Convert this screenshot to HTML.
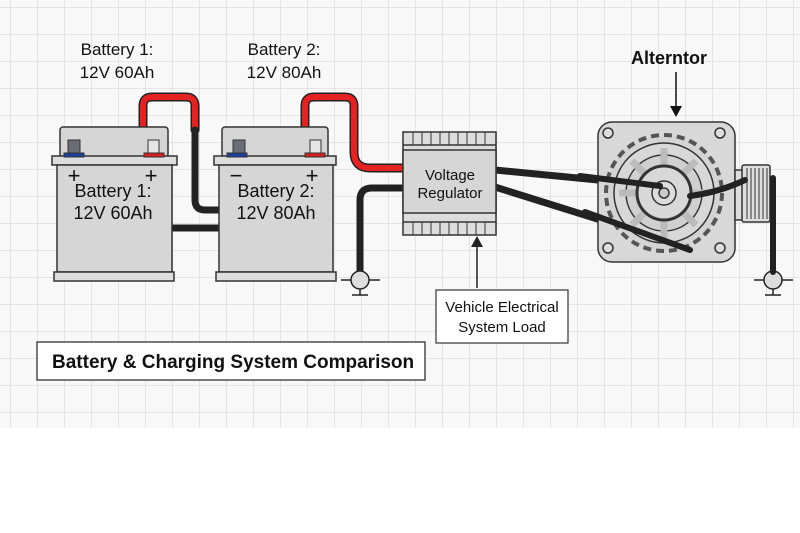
<!DOCTYPE html>
<html><head><style>
body{margin:0;background:#fff;}
svg{display:block;font-family:"Liberation Sans",sans-serif;}
</style></head><body>
<svg width="800" height="533" viewBox="0 0 800 533" xmlns="http://www.w3.org/2000/svg">
<defs>
<pattern id="g" width="27" height="27" patternUnits="userSpaceOnUse" x="11" y="8">
<path d="M27 0V27M0 27H27" stroke="#d2d2d2" stroke-width="1" fill="none"/>
</pattern>
</defs>
<rect width="800" height="428" fill="#f8f8f8"/>
<rect width="800" height="428" fill="url(#g)"/>

<text x="117" y="55" font-size="17" text-anchor="middle" fill="#111">Battery 1:</text>
<text x="117" y="78" font-size="17" text-anchor="middle" fill="#111">12V 60Ah</text>
<text x="284" y="55" font-size="17" text-anchor="middle" fill="#111">Battery 2:</text>
<text x="284" y="78" font-size="17" text-anchor="middle" fill="#111">12V 80Ah</text>
<text x="669" y="64" font-size="18" font-weight="bold" text-anchor="middle" fill="#111">Alterntor</text>
<line x1="676" y1="72" x2="676" y2="108" stroke="#111" stroke-width="1.5"/>
<path d="M670 106 L682 106 L676 117Z" fill="#111"/>

<g fill="none" stroke-linecap="round" stroke-linejoin="round">
<path d="M143 128 V106 Q143 97 152 97 H186 Q195 97 195 106 V130" stroke="#222" stroke-width="9"/>
<path d="M143 128 V106 Q143 97 152 97 H186 Q195 97 195 106 V130" stroke="#e52222" stroke-width="6"/>
<path d="M195 130 V200 Q195 210 205 210 H219" stroke="#222" stroke-width="7"/>
<path d="M172 228 H219" stroke="#222" stroke-width="7"/>
<path d="M305 128 V106 Q305 97 314 97 H345 Q354 97 354 106 V152 Q354 168 370 168 H405" stroke="#222" stroke-width="9"/>
<path d="M305 128 V106 Q305 97 314 97 H345 Q354 97 354 106 V152 Q354 168 370 168 H405" stroke="#e52222" stroke-width="6"/>
<path d="M237 142 Q237 137 245 137 H275 Q280 137 280 130" stroke="#222" stroke-width="7"/>
<path d="M237 142 Q237 137 245 137 H275 Q280 137 280 130" stroke="#e52222" stroke-width="4.5"/>
<path d="M360 272 V200 Q360 188 372 188 H405" stroke="#222" stroke-width="7"/>
<path d="M495 170 L660 186" stroke="#222" stroke-width="7"/>
<path d="M495 187 L690 248" stroke="#222" stroke-width="7"/>
</g>

<g stroke="#333" stroke-width="1.5" fill="#d6d6d6">
<rect x="60" y="127" width="108" height="30" rx="3"/>
<rect x="52" y="156" width="125" height="9" fill="#ddd"/>
<rect x="57" y="165" width="115" height="107"/>
<rect x="54" y="272" width="120" height="9" fill="#ddd"/>
<rect x="222" y="127" width="106" height="30" rx="3"/>
<rect x="214" y="156" width="122" height="9" fill="#ddd"/>
<rect x="219" y="165" width="114" height="107"/>
<rect x="216" y="272" width="120" height="9" fill="#ddd"/>
</g>
<g stroke="#333" stroke-width="1">
<rect x="68" y="140" width="12" height="14" fill="#6a6d75"/>
<rect x="64" y="153" width="20" height="4" fill="#1d3fa0"/>
<rect x="148" y="140" width="11" height="14" fill="#e6e6e6"/>
<rect x="144" y="153" width="20" height="4" fill="#d62020"/>
<rect x="233" y="140" width="12" height="14" fill="#6a6d75"/>
<rect x="227" y="153" width="20" height="4" fill="#1d3fa0"/>
<rect x="310" y="140" width="11" height="14" fill="#e6e6e6"/>
<rect x="305" y="153" width="20" height="4" fill="#d62020"/>
</g>
<g font-size="22" fill="#111" text-anchor="middle">
<text x="74" y="183">+</text><text x="151" y="183">+</text>
<text x="236" y="183">−</text><text x="312" y="183">+</text>
</g>
<g font-size="18" fill="#111" text-anchor="middle">
<text x="113" y="197">Battery 1:</text><text x="113" y="219">12V 60Ah</text>
<text x="276" y="197">Battery 2:</text><text x="276" y="219">12V 80Ah</text>
</g>

<g stroke="#222" stroke-width="1.5" fill="#ddd">
<line x1="341" y1="280" x2="380" y2="280"/><circle cx="360" cy="280" r="9"/>
<line x1="360" y1="289" x2="360" y2="295"/><line x1="352" y1="295" x2="368" y2="295"/>
<line x1="754" y1="280" x2="793" y2="280"/><circle cx="773" cy="280" r="9"/>
<line x1="773" y1="289" x2="773" y2="295"/><line x1="765" y1="295" x2="781" y2="295"/>
</g>

<g stroke="#333" stroke-width="1.5" fill="#d6d6d6">
<rect x="403" y="132" width="93" height="103" fill="#ddd"/>
<rect x="403" y="150" width="93" height="63"/>
<line x1="403" y1="145" x2="496" y2="145"/><line x1="403" y1="222" x2="496" y2="222"/>
</g>
<g stroke="#333" stroke-width="1">
<path d="M413 132V145M422 132V145M431 132V145M440 132V145M449 132V145M458 132V145M467 132V145M476 132V145M485 132V145"/>
<path d="M413 222V235M422 222V235M431 222V235M440 222V235M449 222V235M458 222V235M467 222V235M476 222V235M485 222V235"/>
</g>
<text x="450" y="180" font-size="15" text-anchor="middle" fill="#111">Voltage</text>
<text x="450" y="198" font-size="15" text-anchor="middle" fill="#111">Regulator</text>
<line x1="477" y1="288" x2="477" y2="245" stroke="#222" stroke-width="1.5"/>
<path d="M471 247 L483 247 L477 236Z" fill="#222"/>
<rect x="436" y="290" width="132" height="53" fill="#fff" stroke="#333" stroke-width="1.2"/>
<text x="502" y="312" font-size="15" text-anchor="middle" fill="#111">Vehicle Electrical</text>
<text x="502" y="332" font-size="15" text-anchor="middle" fill="#111">System Load</text>

<g stroke="#333" stroke-width="1.5">
<rect x="598" y="122" width="137" height="140" rx="14" fill="#d8d8d8"/>
<rect x="735" y="170" width="10" height="50" fill="#ddd"/>
<rect x="742" y="165" width="28" height="57" rx="2" fill="#ddd"/>
<path d="M747 168V219M751 168V219M755 168V219M759 168V219M763 168V219M767 168V219" stroke-width="1"/>
<circle cx="664" cy="193" r="58" fill="#d4d4d4" stroke-dasharray="8 5" stroke-width="4" stroke="#555"/>
<circle cx="664" cy="193" r="50" fill="#d8d8d8"/>
<circle cx="664" cy="193" r="38" fill="#d0d0d0"/>
<path d="M664 148V168M664 218V238M619 193H639M689 193H709M632 161L646 175M682 211L696 225M696 161L682 175M646 211L632 225" stroke-width="7" stroke="#bbb"/>
<circle cx="664" cy="193" r="27" fill="#d8d8d8" stroke-width="3"/>
<circle cx="664" cy="193" r="12" fill="#ddd"/>
<circle cx="664" cy="193" r="5" fill="#ccc"/>
<circle cx="608" cy="133" r="5" fill="#ddd"/><circle cx="720" cy="133" r="5" fill="#ddd"/>
<circle cx="608" cy="248" r="5" fill="#ddd"/><circle cx="720" cy="248" r="5" fill="#ddd"/>
</g>
<g fill="none" stroke="#222" stroke-linecap="round">
<path d="M580 176 L660 186" stroke-width="6"/>
<path d="M585 212 L690 250" stroke-width="6"/>
<path d="M690 196 Q720 192 745 180" stroke-width="6"/>
<path d="M773 178 V272" stroke-width="6"/>
</g>

<rect x="37" y="342" width="388" height="38" fill="#fff" stroke="#222" stroke-width="1.2"/>
<text x="52" y="368" font-size="19" font-weight="bold" fill="#111">Battery &amp; Charging System Comparison</text>
</svg>
</body></html>
